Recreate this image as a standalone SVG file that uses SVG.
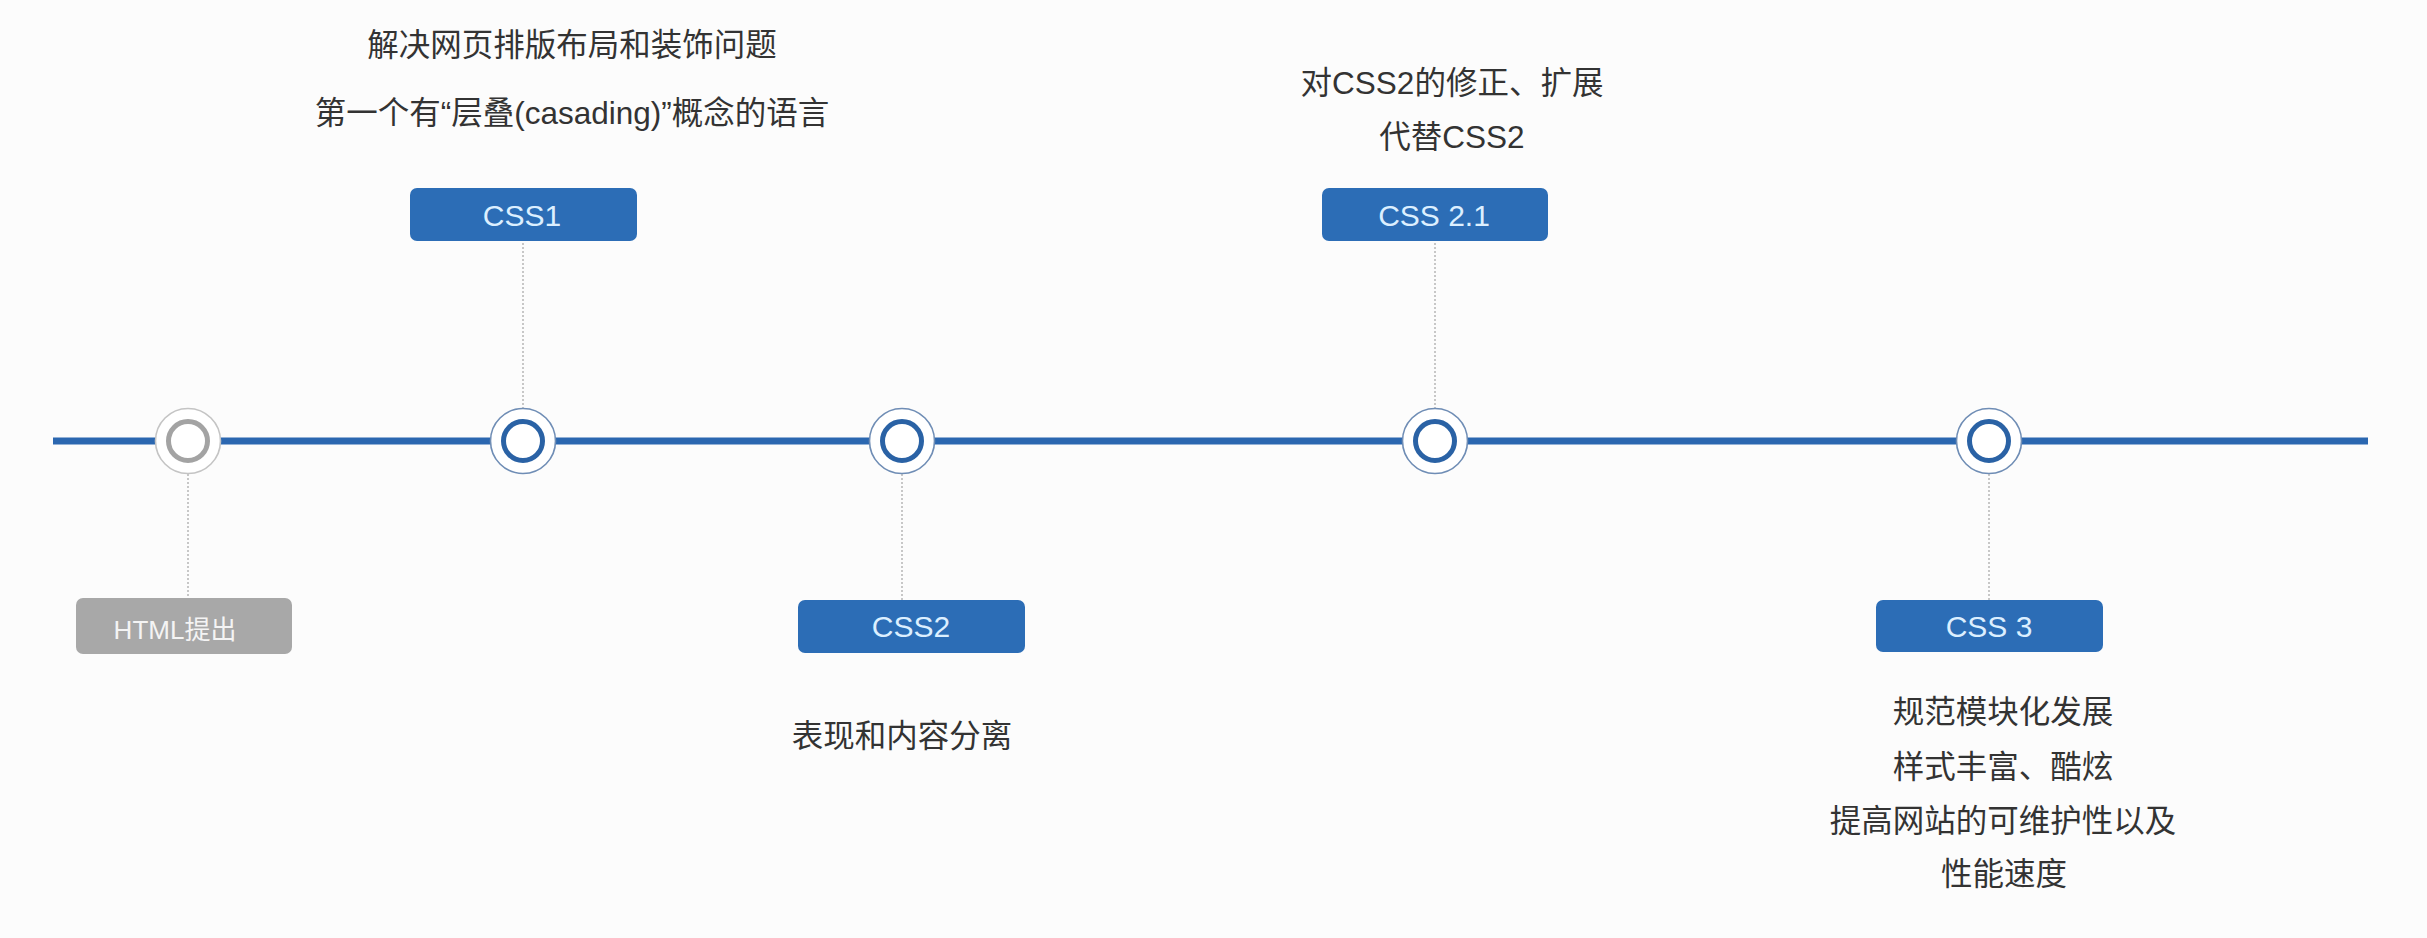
<svg xmlns="http://www.w3.org/2000/svg" width="2427" height="938" viewBox="0 0 2427 938">
<style>
.bg{fill:#fcfcfc}
.axis{stroke:#2b67b0;stroke-width:7;stroke-linecap:butt}
.dot{stroke:#b5b5b5;stroke-width:1.5;stroke-dasharray:2 2;fill:none}
.outer{fill:#ffffff;stroke:#6f8db5;stroke-width:1.6}
.inner{fill:#ffffff;stroke:#2a62a5;stroke-width:5}
.outerG{fill:#ffffff;stroke:#c4c4c4;stroke-width:1.6}
.innerG{fill:#ffffff;stroke:#a3a3a3;stroke-width:5}
.box{fill:#2c6db6}
.boxG{fill:#a8a8a8}
.lbl{font-family:"Liberation Sans","Noto Sans CJK SC",sans-serif;font-size:30px;fill:#dcefff;text-anchor:middle}
.lblG{font-family:"Liberation Sans","Noto Sans CJK SC",sans-serif;font-size:26px;fill:#f4f4f4;text-anchor:middle}
.desc{font-family:"Liberation Sans","Noto Sans CJK SC",sans-serif;font-size:31.5px;fill:#333333;text-anchor:middle}
</style>
<rect class="bg" x="0" y="0" width="2427" height="938"/>
<g id="connectors">
<line class="axis" x1="53" y1="441" x2="2368" y2="441"/>
<line class="dot" x1="188" y1="474" x2="188" y2="598"/>
<line class="dot" x1="523" y1="243" x2="523" y2="408"/>
<line class="dot" x1="902" y1="474" x2="902" y2="600"/>
<line class="dot" x1="1435" y1="243" x2="1435" y2="408"/>
<line class="dot" x1="1989" y1="474" x2="1989" y2="600"/>
</g>
<g id="node-html">
<circle class="outerG" cx="188" cy="441" r="32.5"/>
<circle class="innerG" cx="188" cy="441" r="19.5"/>
<rect class="boxG" x="76" y="598" width="216" height="56" rx="7"/>
<text class="lblG" x="175" y="639">HTML提出</text>
</g>
<g id="node-css1">
<circle class="outer" cx="523" cy="441" r="32.5"/>
<circle class="inner" cx="523" cy="441" r="19.5"/>
<rect class="box" x="410" y="188" width="227" height="53" rx="7"/>
<text class="lbl" x="522" y="226">CSS1</text>
<text class="desc" x="572" y="56">解决网页排版布局和装饰问题</text>
<text class="desc" x="572" y="124">第一个有“层叠(casading)”概念的语言</text>
</g>
<g id="node-css2">
<circle class="outer" cx="902" cy="441" r="32.5"/>
<circle class="inner" cx="902" cy="441" r="19.5"/>
<rect class="box" x="798" y="600" width="227" height="53" rx="7"/>
<text class="lbl" x="911" y="637">CSS2</text>
<text class="desc" x="902" y="747">表现和内容分离</text>
</g>
<g id="node-css21">
<circle class="outer" cx="1435" cy="441" r="32.5"/>
<circle class="inner" cx="1435" cy="441" r="19.5"/>
<rect class="box" x="1322" y="188" width="226" height="53" rx="7"/>
<text class="lbl" x="1434" y="226">CSS 2.1</text>
<text class="desc" x="1452" y="94">对CSS2的修正、扩展</text>
<text class="desc" x="1452" y="148">代替CSS2</text>
</g>
<g id="node-css3">
<circle class="outer" cx="1989" cy="441" r="32.5"/>
<circle class="inner" cx="1989" cy="441" r="19.5"/>
<rect class="box" x="1876" y="600" width="227" height="52" rx="7"/>
<text class="lbl" x="1989" y="637">CSS 3</text>
<text class="desc" x="2003" y="723">规范模块化发展</text>
<text class="desc" x="2003" y="778">样式丰富、酷炫</text>
<text class="desc" x="2003" y="832">提高网站的可维护性以及</text>
<text class="desc" x="2004" y="885">性能速度</text>
</g>
</svg>
